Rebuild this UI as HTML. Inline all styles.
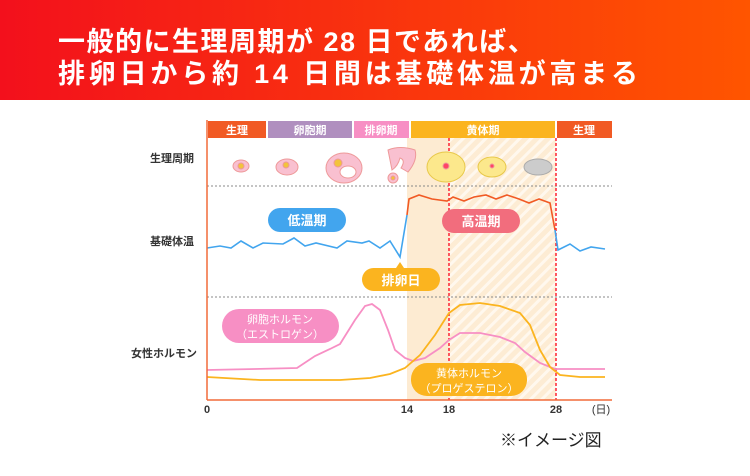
<!DOCTYPE html>
<html><head><meta charset="utf-8"><style>
body{margin:0;width:750px;height:476px;overflow:hidden;background:#fff;font-family:"Liberation Sans","Noto Sans CJK JP",sans-serif}
.hd{position:absolute;left:0;top:0;width:750px;height:100px;background:linear-gradient(90deg,#f3101c,#ff5500)}
.hd div{position:absolute;left:58px;color:#fff;font-size:27px;font-weight:bold;letter-spacing:1.5px;white-space:nowrap}
</style></head><body>
<div class="hd"><div style="top:20px">一般的に生理周期が 28 日であれば、</div><div style="top:52px;letter-spacing:3.8px">排卵日から約 14 日間は基礎体温が高まる</div></div>
<svg width="750" height="476" style="position:absolute;left:0;top:0" font-family="Liberation Sans,Noto Sans CJK JP,sans-serif">
<defs><pattern id="h" width="8" height="8" patternUnits="userSpaceOnUse" patternTransform="rotate(45)"><rect width="8" height="8" fill="#fdecd4"/><rect width="3" height="8" fill="#fff8ee"/></pattern></defs>
<rect x="407" y="138" width="42" height="262" fill="#fdebd2"/>
<rect x="449" y="138" width="107" height="262" fill="url(#h)"/>
<g font-size="11" font-weight="bold" fill="#fff" text-anchor="middle">
<rect x="208" y="121" width="58" height="17" fill="#f15a24"/><text x="237" y="134">生理</text>
<rect x="268" y="121" width="84" height="17" fill="#b08fbf"/><text x="310" y="134">卵胞期</text>
<rect x="354" y="121" width="55" height="17" fill="#f78fc4"/><text x="381" y="134">排卵期</text>
<rect x="411" y="121" width="144" height="17" fill="#fbb41f"/><text x="483" y="134">黄体期</text>
<rect x="557" y="121" width="55" height="17" fill="#f15a24"/><text x="584" y="134">生理</text>
</g>
<line x1="207" y1="186" x2="612" y2="186" stroke="#888" stroke-dasharray="2,2"/>
<line x1="207" y1="297" x2="612" y2="297" stroke="#888" stroke-dasharray="2,2"/>
<line x1="449" y1="138" x2="449" y2="400" stroke="#f23" stroke-width="1.5" stroke-dasharray="3,2"/>
<line x1="556" y1="138" x2="556" y2="400" stroke="#f23" stroke-width="1.5" stroke-dasharray="3,2"/>
<g stroke="#e99" stroke-width="1">
<ellipse cx="241" cy="166" rx="8" ry="6" fill="#f9c0d0"/><circle cx="241" cy="166" r="3" fill="#f2c33c"/>
<ellipse cx="287" cy="167" rx="11" ry="8" fill="#f9c0d0"/><circle cx="286" cy="165" r="3" fill="#f2c33c"/>
<ellipse cx="344" cy="168" rx="18" ry="15" fill="#f9c0d0"/><ellipse cx="348" cy="172" rx="8" ry="6" fill="#fff"/><circle cx="338" cy="163" r="4" fill="#f2c33c"/>
<path d="M388,150 Q400,145 415,150 Q418,160 408,172 L401,168 Q406,160 400,158 Q398,166 392,170 Z" fill="#f9c0d0"/><circle cx="393" cy="178" r="5" fill="#f9c0d0"/><circle cx="393" cy="178" r="2" fill="#f2c33c"/>
<ellipse cx="446" cy="167" rx="19" ry="15" fill="#fce88c" stroke="#e8c84a"/><circle cx="446" cy="166" r="3" fill="#f46"/>
<ellipse cx="492" cy="167" rx="14" ry="10" fill="#fce88c" stroke="#e8c84a"/><circle cx="492" cy="166" r="2" fill="#f46"/>
<ellipse cx="538" cy="167" rx="14" ry="8" fill="#ccc" stroke="#aaa"/>
</g>
<polyline fill="none" stroke="#42a5ee" stroke-width="1.6" points="207,248 220,246 231,248 241,241 253,248 263,243 283,244 294,238 305,246 316,243 337,248 347,241 362,243 369,241 380,248 390,241 400,257 407,215"/>
<polyline fill="none" stroke="#f15a24" stroke-width="1.6" points="407,215 409,199 419,195 432,199 447,201 453,197 464,201 474,197 486,195 496,199 507,195 519,199 529,203 539,199 550,203 555,230"/>
<polyline fill="none" stroke="#42a5ee" stroke-width="1.6" points="555,230 558,250 570,244 580,251 591,247 605,249"/>
<polyline fill="none" stroke="#f78fc4" stroke-width="1.8" points="207,370 255,369 297,368 315,356 330,349 340,344 355,320 365,306 372,304 380,310 388,330 395,350 405,358 413,361 425,358 440,348 449,340 460,333 480,333 500,337 515,343 525,352 540,363 555,369 605,369"/>
<polyline fill="none" stroke="#fbb41f" stroke-width="1.8" points="207,377 260,380 340,380 370,378 390,374 405,368 420,355 435,335 449,313 460,305 480,303 500,306 520,313 530,325 540,350 550,367 560,375 580,377 605,377"/>
<g font-size="13" font-weight="bold" fill="#fff" text-anchor="middle">
<rect x="268" y="208" width="78" height="24" rx="12" fill="#42a5ee"/><text x="307" y="225">低温期</text>
<rect x="442" y="209" width="78" height="24" rx="12" fill="#f26d7d"/><text x="481" y="226">高温期</text>
<path d="M396,268 L400,262 L404,268Z" fill="#fbb41f"/>
<rect x="362" y="268" width="78" height="23" rx="11.5" fill="#fbb41f"/><text x="401" y="285">排卵日</text>
</g>
<g font-size="11" fill="#fff" text-anchor="middle">
<rect x="222" y="309" width="117" height="34" rx="17" fill="#f78fc4"/><text x="280" y="323">卵胞ホルモン</text><text x="280" y="338">（エストロゲン）</text>
<rect x="411" y="363" width="116" height="33" rx="16" fill="#fbb41f"/><text x="469" y="377">黄体ホルモン</text><text x="469" y="392">（プロゲステロン）</text>
</g>
<line x1="207" y1="120" x2="207" y2="400" stroke="#f26b3a" stroke-width="1.5"/>
<line x1="207" y1="400" x2="612" y2="400" stroke="#f26b3a" stroke-width="1.5"/>
<g font-size="11" font-weight="bold" fill="#333" text-anchor="middle">
<text x="172" y="162">生理周期</text><text x="172" y="245">基礎体温</text><text x="164" y="357">女性ホルモン</text>
<text x="207" y="413">0</text><text x="407" y="413">14</text><text x="449" y="413">18</text><text x="556" y="413">28</text><text x="601" y="413" font-weight="normal">(日)</text>
</g>
<text x="500" y="446" font-size="17" fill="#222">※イメージ図</text>
</svg>
</body></html>
